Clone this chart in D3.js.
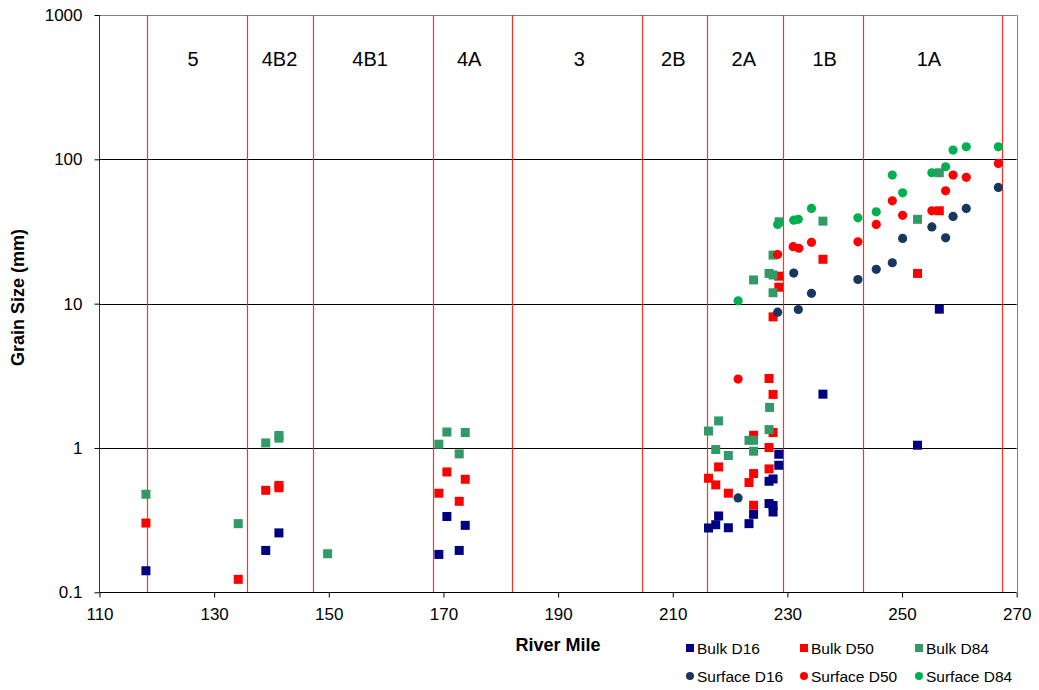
<!DOCTYPE html>
<html><head><meta charset="utf-8">
<script src="https://cdn.jsdelivr.net/npm/d3@7"></script>
<style>body{margin:0;background:#fff}svg{display:block}</style>
</head><body>
<svg id="chart" width="1039" height="690"></svg>
<script>
// ---------- data ----------
const reachBoundaries = [118.2, 135.7, 147.3, 168.2, 182.0, 204.6, 216.0, 229.15, 243.2, 267.5];
const reachLabels = ["5", "4B2", "4B1", "4A", "3", "2B", "2A", "1B", "1A"];
const reachLabelMiles = [126.3, 141.4, 157.2, 174.5, 193.7, 210.1, 222.4, 236.5, 254.7];
const xTickValues = [110, 130, 150, 170, 190, 210, 230, 250, 270];
const yTickValues = [0.1, 1, 10, 100, 1000];
const yTickLabels = ["0.1", "1", "10", "100", "1000"];
const gridValues = [1, 10, 100];
const seriesNames = ["Bulk D16", "Bulk D50", "Bulk D84", "Surface D16", "Surface D50", "Surface D84"];

const bulkD16 = [[118.1,0.141],[139.0,0.195],[141.3,0.258],[169.2,0.183],[170.6,0.335],[172.75,0.195],[173.8,0.291],
  [216.24,0.279],[217.5,0.294],[218.0,0.338],[219.7,0.280],[223.3,0.299],[224.1,0.347],[226.8,0.588],[226.8,0.412],
  [227.5,0.61],[227.5,0.399],[227.5,0.360],[228.5,0.905],[228.5,0.759],[236.2,2.36],[252.7,1.045],[256.5,9.16]];
const bulkD50 = [[118.1,0.302],[134.2,0.123],[139.0,0.509],[141.3,0.53],[141.3,0.55],[169.2,0.486],[170.6,0.682],[172.75,0.427],[173.8,0.607],
  [216.24,0.617],[217.5,0.555],[218.0,0.739],[219.7,0.486],[223.3,0.576],[224.1,1.225],[224.1,0.665],[224.1,0.401],
  [226.8,3.03],[226.8,1.007],[226.8,0.716],[227.5,8.1],[227.5,2.35],[227.5,1.28],[228.5,15.5],[228.5,13.0],
  [236.2,20.3],[252.7,16.2],[256.5,44.0]];
const bulkD84 = [[118.1,0.478],[134.2,0.299],[139.0,1.084],[141.3,1.17],[141.3,1.22],[149.8,0.185],[169.2,1.062],[170.6,1.29],[172.75,0.91],[173.8,1.28],
  [216.24,1.31],[217.5,0.975],[218.0,1.54],[219.7,0.887],[223.3,1.13],[224.1,1.13],[224.1,0.95],[224.1,14.6],
  [226.8,16.2],[226.9,1.91],[226.8,1.34],[227.5,21.7],[227.5,15.8],[227.5,11.9],[228.55,36.9],
  [236.2,37.3],[252.7,38.4],[256.5,80.7]];
const surfaceD16 = [[221.4,0.451],[228.3,8.73],[231.1,16.3],[231.9,9.11],[234.2,11.8],[242.3,14.7],[245.5,17.3],[248.3,19.2],
  [250.1,28.3],[255.2,34.0],[257.6,28.6],[258.9,40.2],[261.2,45.7],[266.8,63.9]];
const surfaceD50 = [[221.4,3.0],[228.3,21.9],[231.0,24.8],[232.0,24.2],[234.2,26.6],[242.3,26.8],[245.5,35.4],[248.3,51.6],
  [250.1,40.9],[255.2,44.0],[257.6,60.5],[258.9,77.8],[261.2,75.0],[266.8,93.7]];
const surfaceD84 = [[221.4,10.46],[228.3,35.4],[231.1,37.9],[231.9,38.4],[234.2,45.7],[242.3,39.3],[245.5,43.3],[248.3,77.8],
  [250.1,58.6],[255.2,80.7],[257.6,88.8],[258.9,115.9],[261.2,122.2],[266.8,122.0]];

// ---------- styles ----------
const seriesData = [bulkD16, bulkD50, bulkD84, surfaceD16, surfaceD50, surfaceD84];
const seriesColors = ["#000080", "#FF0000", "#339966", "#17375E", "#FF0000", "#00B050"];
const seriesShapes = ["square", "square", "square", "circle", "circle", "circle"];
const FONT = "'Liberation Sans', Arial, sans-serif";

const svg = d3.select("#chart");
const L = 99.5, R = 1016.7, T = 15, B = 592.3;
const x = d3.scaleLinear().domain([110, 270]).range([L, R]);
const y = d3.scaleLog().domain([0.1, 1000]).range([B, T]);

// gridlines
svg.append("g").selectAll("line").data(gridValues).join("line")
  .attr("x1", L).attr("x2", R)
  .attr("y1", d => Math.round(y(d)) + 0.5).attr("y2", d => Math.round(y(d)) + 0.5)
  .attr("stroke", "#000").attr("stroke-width", 1);

// top and right border
svg.append("line").attr("x1", L).attr("x2", R).attr("y1", Math.round(T) + 0.5).attr("y2", Math.round(T) + 0.5)
  .attr("stroke", "#808080");
svg.append("line").attr("x1", Math.round(R) + 0.5).attr("x2", Math.round(R) + 0.5).attr("y1", T).attr("y2", B)
  .attr("stroke", "#808080");

// reach boundary lines
svg.append("g").selectAll("line").data(reachBoundaries).join("line")
  .attr("x1", d => Math.round(x(d)) + 0.5).attr("x2", d => Math.round(x(d)) + 0.5)
  .attr("y1", T).attr("y2", B)
  .attr("stroke", "#FF1A1A").attr("stroke-opacity", 0.9).attr("stroke-width", 1.2);

// reach labels
svg.append("g").selectAll("text").data(reachLabels).join("text")
  .attr("x", (d, i) => x(reachLabelMiles[i])).attr("y", 59)
  .attr("text-anchor", "middle").attr("dominant-baseline", "central")
  .attr("font-family", FONT).attr("font-size", 20).attr("fill", "#000")
  .text(d => d);

// axes
const xAxis = d3.axisBottom(x).tickValues(xTickValues).tickSize(5).tickPadding(8).tickFormat(d3.format("d"));
const gx = svg.append("g").attr("transform", `translate(0,${Math.round(B) + 0.5})`).call(xAxis);
gx.select(".domain").attr("stroke", "#000").attr("d", `M${L},0H${R}`);
gx.selectAll(".tick line").attr("stroke", "#000");
gx.selectAll(".tick text").attr("font-family", FONT).attr("font-size", 17).attr("fill", "#000").attr("dy", "0.85em");

const yAxis = d3.axisLeft(y).tickValues(yTickValues).tickSize(5).tickPadding(12)
  .tickFormat((d, i) => yTickLabels[i]);
const gy = svg.append("g").attr("transform", `translate(${Math.round(L) - 0.5},0)`).call(yAxis);
gy.select(".domain").attr("stroke", "#333").attr("d", `M0,${T}V${B}`);
gy.selectAll(".tick line").attr("stroke", "#000");
gy.selectAll(".tick text").attr("font-family", FONT).attr("font-size", 17).attr("fill", "#000");

// axis titles
svg.append("text").attr("x", (L + R) / 2).attr("y", 645)
  .attr("text-anchor", "middle").attr("dominant-baseline", "central")
  .attr("font-family", FONT).attr("font-size", 18).attr("font-weight", "bold").text("River Mile");
svg.append("text").attr("transform", "translate(18,297.5) rotate(-90)")
  .attr("text-anchor", "middle").attr("dominant-baseline", "central")
  .attr("font-family", FONT).attr("font-size", 18).attr("font-weight", "bold").text("Grain Size (mm)");

// markers
const SQ = 9, CR = 4.6;
seriesData.forEach((data, i) => {
  const g = svg.append("g");
  if (seriesShapes[i] === "square") {
    g.selectAll("rect").data(data).join("rect")
      .attr("x", d => x(d[0]) - SQ / 2).attr("y", d => y(d[1]) - SQ / 2)
      .attr("width", SQ).attr("height", SQ).attr("fill", seriesColors[i]);
  } else {
    g.selectAll("circle").data(data).join("circle")
      .attr("cx", d => x(d[0])).attr("cy", d => y(d[1])).attr("r", CR)
      .attr("fill", seriesColors[i]);
  }
});

// legend
const legendCols = [690, 804, 919];
const legendRows = [648, 676];
const lg = svg.append("g");
seriesNames.forEach((name, i) => {
  const cx = legendCols[i % 3], cy = legendRows[Math.floor(i / 3)];
  if (seriesShapes[i] === "square") {
    lg.append("rect").attr("x", cx - 4).attr("y", cy - 4).attr("width", 8).attr("height", 8).attr("fill", seriesColors[i]);
  } else {
    lg.append("circle").attr("cx", cx).attr("cy", cy).attr("r", 4).attr("fill", seriesColors[i]);
  }
  lg.append("text").attr("x", cx + 7).attr("y", cy).attr("dominant-baseline", "central")
    .attr("font-family", FONT).attr("font-size", 15.5).attr("fill", "#000").text(name);
});
</script>
</body></html>
